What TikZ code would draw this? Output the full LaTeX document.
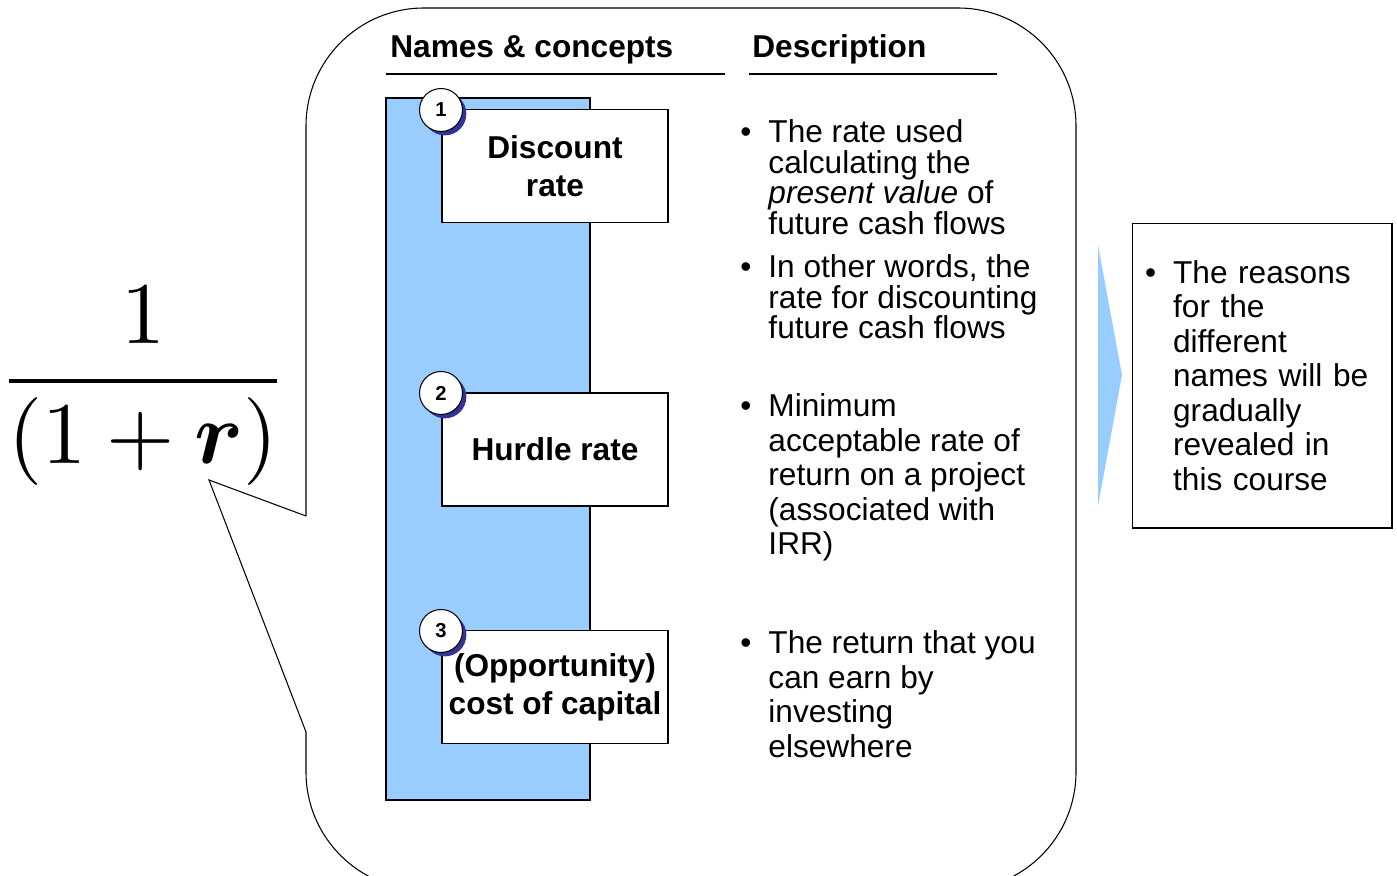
\documentclass[tikz,border=0pt]{standalone}
\usepackage{amsmath}
\usepackage{amssymb}
\usepackage[no-math]{fontspec}
\setmainfont{Liberation Sans}
\usepackage{xcolor}
\usetikzlibrary{positioning,calc,shadows}
\definecolor{barblue}{RGB}{153,204,255}
\definecolor{dotnavy}{RGB}{51,51,153}
\newcommand{\bulpar}[2][6.2cm]{\noindent\makebox[16pt][l]{\textbullet}\parbox[t]{#1}{#2}}

\begin{document}
\begin{tikzpicture}[x=0.02cm, y=-0.02cm,
  thin line/.style={line width=0.6pt},
  head/.style={font=\bfseries\fontsize{18}{20}\selectfont, inner sep=0pt, anchor=base west},
  namebox/.style={draw, thin line, fill=white, minimum width=4.52cm, minimum height=2.25cm, align=center, inner sep=1pt, font=\bfseries\fontsize{18}{21.6}\selectfont},
  numdot/.style={circle, draw, thin line, fill=white, minimum size=0.86cm, inner sep=0pt, font=\bfseries\fontsize{11.5}{11.5}\selectfont, drop shadow={shadow xshift=2.2pt, shadow yshift=-2.2pt, fill=dotnavy, opacity=1}},
  bullets/.style={anchor=north west, inner sep=0pt, font=\fontsize{18}{#1}\selectfont}]
  \useasboundingbox (0,0) rectangle (1397,876);
  \clip (0,0) rectangle (1397,876);

  % formula and callout
  \node[inner sep=0pt, anchor=base] (frac) at (143,403) {\scalebox{5}{$\displaystyle\frac{1}{(1+\boldsymbol{r})}$}};
  \coordinate (tip) at (209,480);
  \draw[thin line, rounded corners=2.36cm] (306,516) -- (306,8) -- (1076,8) -- (1076,890) -- (306,890) -- (306,732);
  \draw[thin line] (306,516) -- (tip) -- (306,732);

  % headers
  \node[head] (hname) at (390,57) {Names \& concepts};
  \node[head] (hdesc) at (752,57) {Description};
  \draw[line width=0.8pt] (386,74) -- (725,74);
  \draw[line width=0.8pt] (749,74) -- (997,74);

  % names column
  \draw[thin line, fill=barblue] (386,98) rectangle (590,800);
  \node[namebox] (rate1) at (555,166) {Discount\\rate};
  \node[namebox, minimum height=2.26cm] (rate2) at (555,449.5) {Hurdle rate};
  \node[namebox] (rate3) at (555,687) {(Opportunity)\\cost of capital};
  \node[numdot] (n1) at (441,110) {1};
  \node[numdot] (n2) at (441,393) {2};
  \node[numdot] (n3) at (441,631) {3};

  % descriptions
  \node[bullets=17.35] (d1) at (740,119.5) {\bulpar{The rate used\\calculating the\\\textit{present value} of\\future cash flows}};
  \node[bullets=17.35] (d2) at (740,254.5) {\bulpar{In other words, the\\rate for discounting\\future cash flows}};
  \node[bullets=19.6] (d3) at (740,393.5) {\bulpar{Minimum\\acceptable rate of\\return on a project\\(associated with\\IRR)}};
  \node[bullets=19.6] (d4) at (740,630.5) {\bulpar{The return that you\\can earn by\\investing\\elsewhere}};

  % arrow and remark
  \fill[barblue] (1098,245) -- (1122,375) -- (1098,506) -- cycle;
  \node[draw, thin line, text width=4.68cm, inner xsep=0.26cm, minimum height=6.1cm, font=\fontsize{18}{19.6}\selectfont] (reasons) at (1262,375.5) {\bulpar[4.1cm]{The reasons\\for the\\different\\names will be\\gradually\\revealed in\\this course}};
\end{tikzpicture}
\end{document}
